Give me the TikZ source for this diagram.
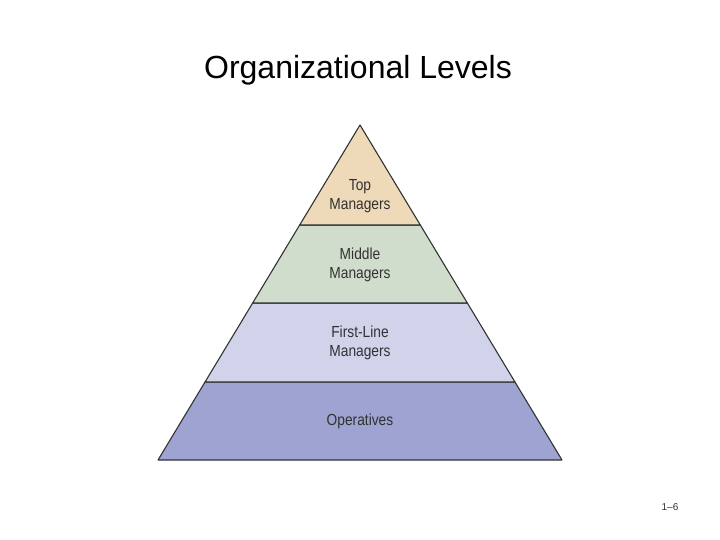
\documentclass[tikz,border=0pt]{standalone}
\usepackage{fontspec}
\setmainfont{Liberation Sans}
\newfontfamily\narrowfont[FakeStretch=0.86]{Liberation Sans}
\usepackage{tikz}
\usetikzlibrary{calc}
\definecolor{topcol}{RGB}{238,217,184}
\definecolor{midcol}{RGB}{209,221,204}
\definecolor{firstcol}{RGB}{208,211,234}
\definecolor{opcol}{RGB}{158,163,209}
\definecolor{edgecol}{RGB}{50,50,50}
\tikzset{band/.style = {draw=edgecol,line width=1.1pt,line join=round},
         level/.style = {font=\narrowfont\fontsize{16}{19}\selectfont,text=edgecol,align=center,inner sep=0pt}}

\begin{document}
\begin{tikzpicture}[x=1pt,y=-1pt]
            \useasboundingbox (0,0) rectangle (720,540);
            \coordinate (apex) at (360,125);
            \coordinate (bl) at (158,460);
            \coordinate (br) at (562,460);
            \coordinate (l1) at ($(apex)!0.2985!(bl)$);
            \coordinate (r1) at ($(apex)!0.2985!(br)$);
            \coordinate (l2) at ($(apex)!0.5313!(bl)$);
            \coordinate (r2) at ($(apex)!0.5313!(br)$);
            \coordinate (l3) at ($(apex)!0.7672!(bl)$);
            \coordinate (r3) at ($(apex)!0.7672!(br)$);
            \draw[band,fill=opcol] (l3) -- (r3) -- (br) -- (bl) -- cycle;
            \draw[band,fill=firstcol] (l2) -- (r2) -- (r3) -- (l3) -- cycle;
            \draw[band,fill=midcol] (l1) -- (r1) -- (r2) -- (l2) -- cycle;
            \draw[band,fill=topcol] (apex) -- (r1) -- (l1) -- cycle;
            \node (title) at (358,70) {\fontsize{32}{38}\selectfont Organizational Levels};
            \node[level] (top) at (360,196) {Top\\Managers};
            \node[level] (middle) at (360,265) {Middle\\Managers};
            \node[level] (firstline) at (360,343) {First-Line\\Managers};
            \node[level] (operatives) at (360,421) {Operatives};
            \node[text=edgecol] (page) at (670,507) {\fontsize{10}{12}\selectfont 1--6};
        \end{tikzpicture}
\end{document}
